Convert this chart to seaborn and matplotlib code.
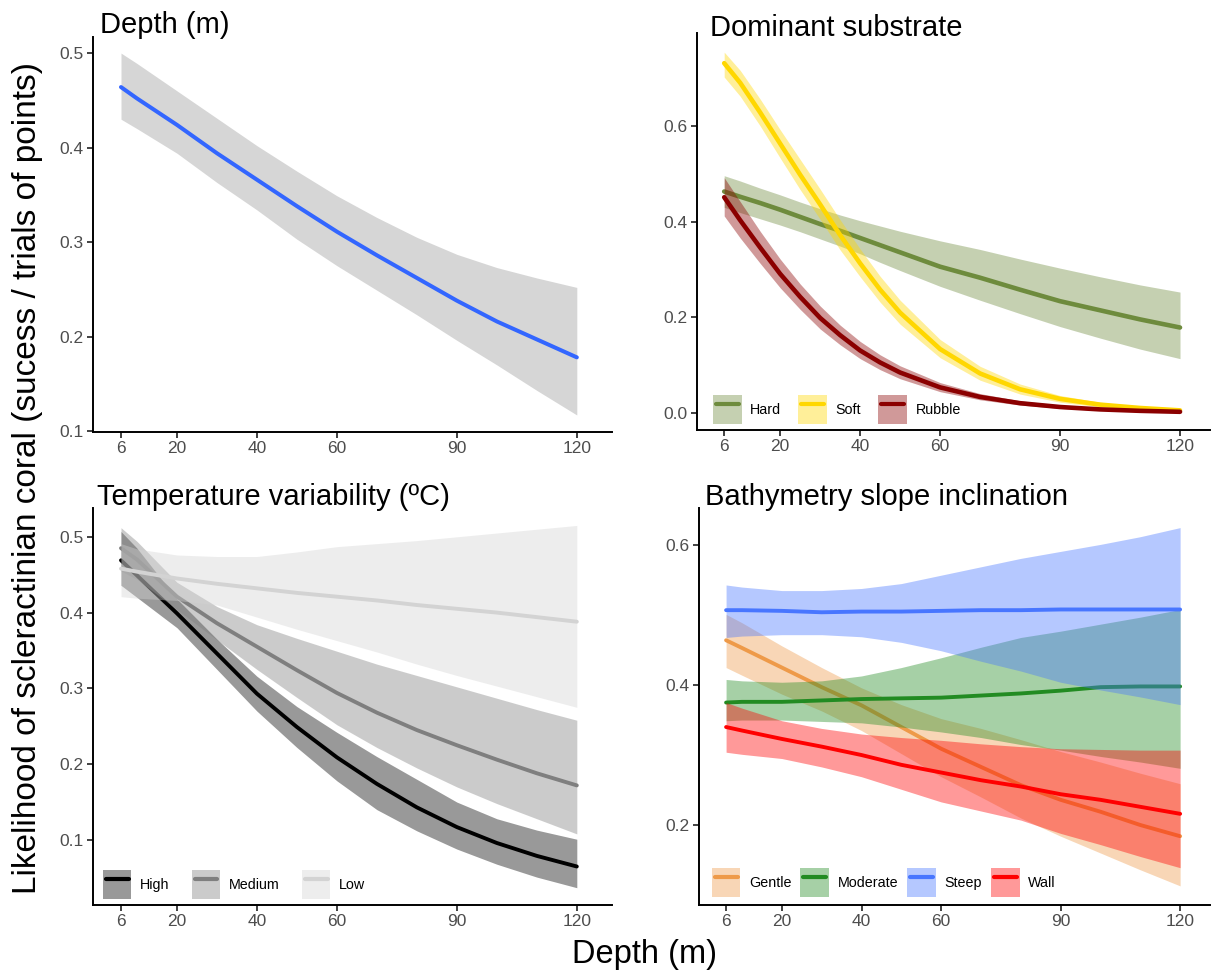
"""
Recria a figura de 4 painéis com a probabilidade de coral escleractíneo
em função da profundidade (curvas ajustadas + intervalos de confiança).
"""
import pandas as pd
import numpy as np
import matplotlib
matplotlib.use('Agg')
import matplotlib.pyplot as plt
import seaborn as sns
from matplotlib.patches import Patch
from matplotlib.lines import Line2D
from matplotlib.legend_handler import HandlerTuple, HandlerLine2D

sns.set_style('ticks')
plt.rcParams['font.family'] = ['Liberation Sans', 'DejaVu Sans']
plt.rcParams['text.color'] = 'black'

# Profundidades (m) onde os valores foram lidos
depth = [6, 10, 20, 30, 40, 50, 60, 70, 80, 90, 100, 110, 120]
# grade mais fina para as curvas mais fechadas do substrato
depth_fine = [6, 10, 15, 20, 25, 30, 35, 40, 45, 50, 60, 70, 80, 90, 100, 110, 120]
xticks = [6, 20, 40, 60, 90, 120]

# Painel 1 - Depth (m)
depth_fit = [0.464, 0.452, 0.424, 0.394, 0.366, 0.338, 0.311, 0.286, 0.262, 0.238, 0.216, 0.197, 0.178]
depth_hi = [0.500, 0.489, 0.460, 0.431, 0.402, 0.375, 0.349, 0.326, 0.305, 0.287, 0.273, 0.262, 0.252]
depth_lo = [0.430, 0.420, 0.394, 0.363, 0.334, 0.303, 0.275, 0.249, 0.223, 0.196, 0.170, 0.143, 0.117]

# Painel 2 - Dominant substrate (grade fina)
substrate_levels = ['Hard', 'Soft', 'Rubble']
hard_fit = [0.463, 0.452, 0.439, 0.425, 0.410, 0.395, 0.381, 0.366, 0.351, 0.336, 0.306, 0.283, 0.258, 0.234, 0.215, 0.196, 0.179]
hard_hi = [0.496, 0.485, 0.470, 0.456, 0.441, 0.427, 0.414, 0.402, 0.391, 0.380, 0.360, 0.342, 0.322, 0.303, 0.285, 0.268, 0.253]
hard_lo = [0.430, 0.419, 0.406, 0.393, 0.379, 0.364, 0.349, 0.333, 0.315, 0.298, 0.265, 0.236, 0.208, 0.181, 0.157, 0.134, 0.114]
soft_fit = [0.731, 0.690, 0.628, 0.563, 0.498, 0.436, 0.372, 0.313, 0.258, 0.210, 0.134, 0.083, 0.050, 0.030, 0.018, 0.011, 0.006]
soft_hi = [0.754, 0.716, 0.656, 0.592, 0.530, 0.468, 0.404, 0.343, 0.286, 0.236, 0.154, 0.098, 0.061, 0.037, 0.023, 0.014, 0.009]
soft_lo = [0.702, 0.662, 0.600, 0.533, 0.467, 0.405, 0.341, 0.285, 0.232, 0.186, 0.116, 0.069, 0.040, 0.023, 0.013, 0.007, 0.004]
rubble_fit = [0.451, 0.403, 0.346, 0.291, 0.243, 0.199, 0.163, 0.131, 0.106, 0.085, 0.054, 0.034, 0.021, 0.013, 0.008, 0.005, 0.003]
rubble_hi = [0.492, 0.442, 0.380, 0.322, 0.270, 0.224, 0.184, 0.150, 0.122, 0.099, 0.064, 0.041, 0.026, 0.017, 0.011, 0.007, 0.005]
rubble_lo = [0.412, 0.366, 0.313, 0.262, 0.217, 0.176, 0.143, 0.114, 0.091, 0.072, 0.045, 0.028, 0.017, 0.010, 0.006, 0.003, 0.002]

# Painel 3 - Temperature variability
temp_levels = ['High', 'Medium', 'Low']
high_fit = [0.469, 0.449, 0.399, 0.346, 0.293, 0.249, 0.209, 0.174, 0.143, 0.117, 0.096, 0.079, 0.065]
high_hi = [0.507, 0.485, 0.418, 0.365, 0.316, 0.276, 0.242, 0.210, 0.180, 0.150, 0.128, 0.113, 0.101]
high_lo = [0.436, 0.420, 0.380, 0.325, 0.270, 0.222, 0.178, 0.140, 0.112, 0.088, 0.068, 0.051, 0.037]
medium_fit = [0.485, 0.470, 0.421, 0.386, 0.355, 0.324, 0.294, 0.268, 0.245, 0.225, 0.206, 0.188, 0.172]
medium_hi = [0.512, 0.494, 0.440, 0.408, 0.384, 0.366, 0.349, 0.332, 0.317, 0.302, 0.287, 0.272, 0.258]
medium_lo = [0.455, 0.444, 0.404, 0.364, 0.325, 0.288, 0.252, 0.222, 0.195, 0.170, 0.148, 0.128, 0.108]
low_fit = [0.458, 0.454, 0.445, 0.438, 0.432, 0.426, 0.421, 0.416, 0.410, 0.405, 0.400, 0.394, 0.388]
low_hi = [0.491, 0.484, 0.476, 0.474, 0.474, 0.480, 0.487, 0.491, 0.495, 0.500, 0.505, 0.510, 0.515]
low_lo = [0.421, 0.419, 0.416, 0.410, 0.394, 0.378, 0.363, 0.348, 0.332, 0.317, 0.303, 0.289, 0.275]

# Painel 4 - Bathymetry slope inclination
slope_levels = ['Gentle', 'Moderate', 'Steep', 'Wall']
gentle_fit = [0.464, 0.453, 0.425, 0.397, 0.371, 0.340, 0.309, 0.283, 0.257, 0.236, 0.219, 0.200, 0.184]
gentle_hi = [0.501, 0.489, 0.456, 0.425, 0.396, 0.372, 0.352, 0.338, 0.322, 0.305, 0.290, 0.274, 0.259]
gentle_lo = [0.425, 0.414, 0.387, 0.363, 0.335, 0.302, 0.269, 0.240, 0.210, 0.184, 0.160, 0.136, 0.113]
moderate_fit = [0.375, 0.376, 0.376, 0.378, 0.380, 0.381, 0.382, 0.385, 0.388, 0.392, 0.397, 0.398, 0.398]
moderate_hi = [0.408, 0.406, 0.404, 0.406, 0.413, 0.425, 0.439, 0.454, 0.468, 0.477, 0.487, 0.497, 0.508]
moderate_lo = [0.349, 0.350, 0.350, 0.348, 0.346, 0.340, 0.333, 0.325, 0.315, 0.307, 0.298, 0.290, 0.281]
steep_fit = [0.507, 0.507, 0.506, 0.504, 0.505, 0.505, 0.506, 0.507, 0.507, 0.508, 0.508, 0.508, 0.508]
steep_hi = [0.543, 0.540, 0.535, 0.535, 0.538, 0.545, 0.557, 0.569, 0.581, 0.591, 0.601, 0.612, 0.625]
steep_lo = [0.468, 0.470, 0.472, 0.472, 0.469, 0.461, 0.449, 0.434, 0.420, 0.404, 0.393, 0.383, 0.372]
wall_fit = [0.340, 0.335, 0.323, 0.312, 0.300, 0.286, 0.275, 0.264, 0.255, 0.244, 0.236, 0.226, 0.216]
wall_hi = [0.375, 0.367, 0.349, 0.338, 0.330, 0.325, 0.321, 0.316, 0.312, 0.309, 0.308, 0.307, 0.307]
wall_lo = [0.304, 0.301, 0.295, 0.283, 0.269, 0.251, 0.233, 0.220, 0.207, 0.188, 0.172, 0.155, 0.139]


def long_table(levels, fits, his, los, x=depth):
    """Junta as séries de cada nível numa tabela longa"""
    parts = []
    for lev, f, h, l in zip(levels, fits, his, los):
        parts.append(pd.DataFrame({'depth': x, 'level': lev, 'fit': f, 'hi': h, 'lo': l}))
    return pd.concat(parts, ignore_index=True)


df_depth = long_table(['Depth'], [depth_fit], [depth_hi], [depth_lo])
df_substrate = long_table(substrate_levels, [hard_fit, soft_fit, rubble_fit],
                          [hard_hi, soft_hi, rubble_hi], [hard_lo, soft_lo, rubble_lo],
                          x=depth_fine)
df_temp = long_table(temp_levels, [high_fit, medium_fit, low_fit],
                     [high_hi, medium_hi, low_hi], [high_lo, medium_lo, low_lo])
df_slope = long_table(slope_levels, [gentle_fit, moderate_fit, steep_fit, wall_fit],
                      [gentle_hi, moderate_hi, steep_hi, wall_hi],
                      [gentle_lo, moderate_lo, steep_lo, wall_lo])

W, H = 1211, 973
fig = plt.figure(figsize=(W / 100, H / 100), dpi=100)


class ShortLine(HandlerLine2D):
    # linha da legenda um pouco mais curta que a caixa, como no ggplot
    def create_artists(self, legend, orig_handle, xdescent, ydescent, width, height, fontsize, trans):
        pad = width * 0.1
        return super().create_artists(legend, orig_handle, xdescent - pad, ydescent,
                                      width - 2 * pad, height, fontsize, trans)


def px_axes(left, top, right, bottom):
    return fig.add_axes([left / W, 1 - bottom / H, (right - left) / W, (bottom - top) / H])


def draw_panel(ax, df, colors, lw, fills=None):
    # faixa e linha de cada nível, na ordem da legenda
    z = 2
    for lev, col in colors.items():
        d = df[df['level'] == lev]
        fc = fills[lev] if fills else col
        ax.fill_between(d['depth'], d['lo'], d['hi'], color=fc, alpha=0.4, lw=0, zorder=z)
        sns.lineplot(data=d, x='depth', y='fit', color=col, lw=lw, ax=ax,
                     zorder=z + 1, legend=False, errorbar=None)
        z += 2


def style_axes(ax, xlim, ylim, yticks):
    ax.set_xlim(xlim)
    ax.set_ylim(ylim)
    ax.set_xticks(xticks)
    ax.set_xticklabels([str(x) for x in xticks])
    ax.set_yticks(yticks)
    ax.set_yticklabels([f'{y:.1f}' for y in yticks])
    ax.set_xlabel('')
    ax.set_ylabel('')
    sns.despine(ax=ax)
    for s in ['left', 'bottom']:
        ax.spines[s].set_linewidth(1.4)
        ax.spines[s].set_color('black')
    ax.tick_params(length=4, width=1.3, colors='#333333', labelcolor='#4D4D4D',
                   labelsize=12.5, pad=2.5)


def add_legend(ax, colors, lw, x0, y0, colsp):
    handles = [(Patch(facecolor=c, alpha=0.4, edgecolor='none'),
                Line2D([], [], color=c, lw=lw)) for c in colors.values()]
    ax.legend(handles, list(colors.keys()),
              handler_map={tuple: HandlerTuple(ndivide=1), Line2D: ShortLine()},
              loc='lower left', bbox_to_anchor=(x0, y0), ncol=len(colors), frameon=False,
              fontsize=10.3, handlelength=2.0, handleheight=2.75, handletextpad=0.6,
              columnspacing=colsp, borderpad=0, borderaxespad=0)


# Painel 1
ax1 = px_axes(93, 37, 612, 432)
draw_panel(ax1, df_depth, {'Depth': '#3366FF'}, 2.9, fills={'Depth': '#999999'})
style_axes(ax1, (-1.0, 128.8), (0.099, 0.517), [0.1, 0.2, 0.3, 0.4, 0.5])

# Painel 2
ax2 = px_axes(697, 33, 1210, 430)
substrate_colors = {'Hard': '#6E8B3D', 'Soft': '#FFD700', 'Rubble': '#8B0000'}
draw_panel(ax2, df_substrate, substrate_colors, 3.3)
style_axes(ax2, (-0.8, 127.5), (-0.035, 0.794), [0.0, 0.2, 0.4, 0.6])
add_legend(ax2, substrate_colors, 3.0, 0.031, 0.015, 1.2)

# Painel 3
ax3 = px_axes(93, 508, 612, 905)
temp_colors = {'High': '#000000', 'Medium': '#7F7F7F', 'Low': '#D3D3D3'}
draw_panel(ax3, df_temp, temp_colors, 2.8)
style_axes(ax3, (-1.0, 128.8), (0.0142, 0.538), [0.1, 0.2, 0.3, 0.4, 0.5])
add_legend(ax3, temp_colors, 3.0, 0.019, 0.015, 1.55)

# Painel 4
ax4 = px_axes(699, 508, 1210, 905)
slope_colors = {'Gentle': '#EE9A49', 'Moderate': '#228B22', 'Steep': '#4876FF', 'Wall': '#FF0000'}
draw_panel(ax4, df_slope, slope_colors, 2.8)
style_axes(ax4, (-0.8, 127.5), (0.0857, 0.653), [0.2, 0.4, 0.6])
add_legend(ax4, slope_colors, 3.0, 0.025, 0.02, 0.63)

# Títulos dos painéis
for txt, x, y in [('Depth (m)', 100, 33), ('Dominant substrate', 710, 36),
                  ('Temperature variability (ºC)', 97, 505),
                  ('Bathymetry slope inclination', 705, 505)]:
    fig.text(x / W, 1 - y / H, txt, ha='left', va='baseline', fontsize=21)

# Rótulos comuns
fig.text(28 / W, 1 - 478 / H, 'Likelihood of scleractinian coral (sucess / trials of points)',
         rotation=90, ha='center', va='center', fontsize=24)
fig.text(644 / W, 1 - 963 / H, 'Depth (m)', ha='center', va='baseline', fontsize=23.5)

plt.savefig('out.png', dpi=100)
